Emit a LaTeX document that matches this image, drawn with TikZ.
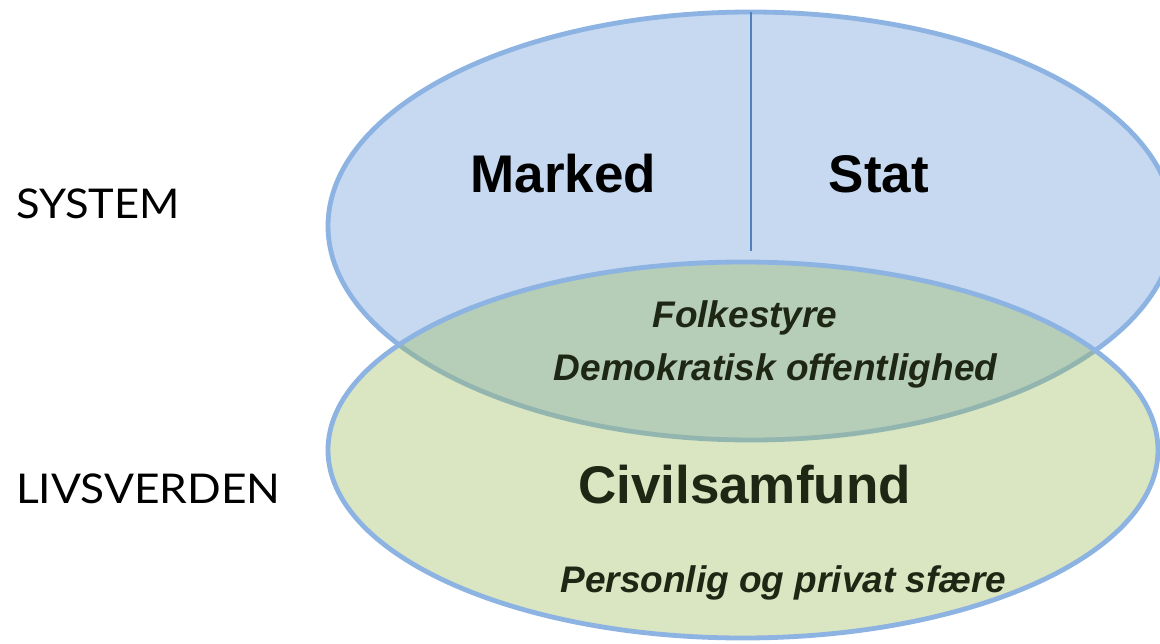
\documentclass[tikz,border=0pt]{standalone}
\usepackage{fontspec}
\setmainfont{Liberation Sans}
\newfontfamily\gillfont{Lato}
\usetikzlibrary{shapes.geometric}
\definecolor{sysfill}{HTML}{C6D9F1}
\definecolor{edgeblue}{HTML}{8DB3E2}
\definecolor{divline}{HTML}{4F81BD}
\definecolor{lifefill}{HTML}{9BBB59}
\definecolor{greentext}{HTML}{1E2614}
\tikzset{
  sphere/.style={ellipse, inner sep=0pt, outer sep=0pt, draw=edgeblue, line width=4.8pt},
  bigword/.style={font=\fontsize{53}{60}\selectfont\bfseries, inner sep=0pt, anchor=base},
  smallword/.style={font=\fontsize{37}{44}\selectfont\bfseries\itshape, text=greentext, inner sep=0pt, anchor=base},
  sideword/.style={font=\gillfont\fontsize{41}{48}\selectfont, inner sep=0pt, anchor=base west}
}
\begin{document}
\begin{tikzpicture}[x=1pt,y=-1pt]
\useasboundingbox (0,0) rectangle (1160,643);
\clip (0,0) rectangle (1160,643);
\fill[white] (0,0) rectangle (1160,643);
\node[sphere, fill=sysfill, minimum width=846pt, minimum height=428pt] (sys) at (751,226) {};
\coordinate (divend) at (751,251);
\draw[divline, line width=1.6pt] (sys.north) -- (divend);
\node[sphere, fill=lifefill, fill opacity=0.37, minimum width=830pt, minimum height=376pt] (life) at (743,450) {};
\node[bigword] (marked) at (563.5,192) {Marked};
\node[bigword] (stat) at (879,192) {Stat};
\node[smallword] (folk) at (745,327) {Folkestyre};
\node[smallword] (demo) at (775.5,380) {Demokratisk offentlighed};
\node[bigword, text=greentext] (civil) at (744.5,503) {Civilsamfund};
\node[smallword] (pers) at (783.5,592) {Personlig og privat sfære};
\node[sideword] (system) at (16,218) {\scalebox{1.06}[1]{SYSTEM}};
\node[sideword] (livs) at (16,503) {\scalebox{1.08}[1]{LIVSVERDEN}};
\end{tikzpicture}
\end{document}
